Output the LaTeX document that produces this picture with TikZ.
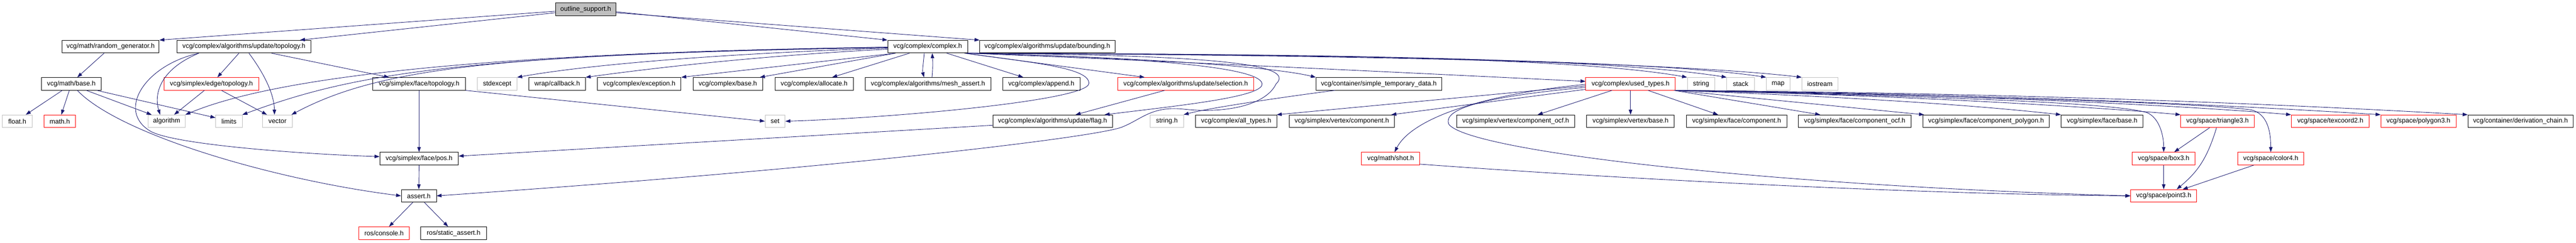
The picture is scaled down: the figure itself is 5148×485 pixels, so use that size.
\documentclass[tikz,border=0pt]{standalone}
\usepackage{fontspec}
\setmainfont{Liberation Sans}
\usetikzlibrary{arrows.meta}
\definecolor{mblue}{HTML}{191970}
\definecolor{gray75}{HTML}{BFBFBF}
\definecolor{nred}{HTML}{FF0000}
\tikzset{
  box/.style={draw, rectangle, minimum height=25.3pt, inner sep=0pt, line width=0.9pt,
    font=\fontsize{13.2}{15}\selectfont, text=black},
  nb/.style={box, draw=black},
  nr/.style={box, draw=nred},
  ng/.style={box, draw=gray75},
  nroot/.style={box, draw=black, fill=gray75},
  e/.style={draw=mblue, line width=0.9pt, -{Triangle[length=10pt,width=7pt]}}
}
\begin{document}
\begin{tikzpicture}[x=1pt,y=-1pt]
\useasboundingbox[fill=white] (0,0) rectangle (5148,485);
% row 0
\node[nroot, minimum width=121pt] (os) at (1170.5,18.5) {outline\_support.h};
% row 1
\node[nb, minimum width=194pt] (rg) at (221,93.3) {vcg/math/random\_generator.h};
\node[nb, minimum width=267pt] (ut) at (487.5,93.3) {vcg/complex/algorithms/update/topology.h};
\node[nb, minimum width=160pt] (cx) at (1854,93.3) {vcg/complex/complex.h};
\node[nb, minimum width=270pt] (bd) at (2093,93.3) {vcg/complex/algorithms/update/bounding.h};
% row 2
\node[nb, minimum width=119pt] (mb) at (142.5,167.7) {vcg/math/base.h};
\node[nr, minimum width=189pt] (et) at (422.5,167.7) {vcg/simplex/edge/topology.h};
\node[nb, minimum width=185pt] (ft) at (837.5,167.7) {vcg/simplex/face/topology.h};
\node[ng, minimum width=79pt] (se) at (993.5,167.7) {stdexcept};
\node[nb, minimum width=113pt] (cb) at (1113.5,167.7) {wrap/callback.h};
\node[nb, minimum width=167pt] (ex) at (1277.5,167.7) {vcg/complex/exception.h};
\node[nb, minimum width=139pt] (cbase) at (1454.5,167.7) {vcg/complex/base.h};
\node[nb, minimum width=156pt] (al) at (1627,167.7) {vcg/complex/allocate.h};
\node[nb, minimum width=251pt] (ma) at (1854.5,167.7) {vcg/complex/algorithms/mesh\_assert.h};
\node[nb, minimum width=154pt] (ap) at (2081,167.7) {vcg/complex/append.h};
\node[nr, minimum width=271pt] (sel) at (2369.5,167.7) {vcg/complex/algorithms/update/selection.h};
\node[nb, minimum width=251pt] (st) at (2755.5,167.7) {vcg/container/simple\_temporary\_data.h};
\node[nr, minimum width=179pt] (ut2) at (3258.5,167.7) {vcg/complex/used\_types.h};
\node[ng, minimum width=55pt] (str) at (3399.5,167.7) {string};
\node[ng, minimum width=55pt] (stk) at (3478.5,167.7) {stack};
\node[ng, minimum width=47pt] (map) at (3553.5,167.7) {map};
\node[ng, minimum width=72pt] (ios) at (3637,167.7) {iostream};
% row 3
\node[ng, minimum width=59pt] (fl) at (34.5,242.5) {float.h};
\node[nr, minimum width=63pt] (mh) at (119.5,242.5) {math.h};
\node[ng, minimum width=74pt] (alg) at (333,242.5) {algorithm};
\node[ng, minimum width=53pt] (lim) at (457.5,242.5) {limits};
\node[ng, minimum width=59pt] (vec) at (554.5,242.5) {vector};
\node[ng, minimum width=40pt] (set) at (1549,242.5) {set};
\node[nb, minimum width=239pt] (flag) at (2103.5,242.5) {vcg/complex/algorithms/update/flag.h};
\node[ng, minimum width=66pt] (strh) at (2332,242.5) {string.h};
\node[nb, minimum width=163pt] (at) at (2470.5,242.5) {vcg/complex/all\_types.h};
\node[nb, minimum width=211pt] (vc) at (2681.5,242.5) {vcg/simplex/vertex/component.h};
\node[nb, minimum width=236pt] (vco) at (3029,242.5) {vcg/simplex/vertex/component\_ocf.h};
\node[nb, minimum width=175pt] (vb) at (3258.5,242.5) {vcg/simplex/vertex/base.h};
\node[nb, minimum width=201pt] (fc) at (3470.5,242.5) {vcg/simplex/face/component.h};
\node[nb, minimum width=225pt] (fco) at (3706.5,242.5) {vcg/simplex/face/component\_ocf.h};
\node[nb, minimum width=252pt] (fcp) at (3969,242.5) {vcg/simplex/face/component\_polygon.h};
\node[nb, minimum width=164pt] (fb) at (4201,242.5) {vcg/simplex/face/base.h};
\node[nr, minimum width=147pt] (tri) at (4431.5,242.5) {vcg/space/triangle3.h};
\node[nr, minimum width=156pt] (tex) at (4657,242.5) {vcg/space/texcoord2.h};
\node[nr, minimum width=150pt] (poly) at (4833,242.5) {vcg/space/polygon3.h};
\node[nb, minimum width=210pt] (dc) at (5037,242.5) {vcg/container/derivation\_chain.h};
% row 4
\node[nb, minimum width=157pt] (pos) at (837.5,317.2) {vcg/simplex/face/pos.h};
\node[nr, minimum width=116pt] (shot) at (2779,317.2) {vcg/math/shot.h};
\node[nr, minimum width=126pt] (box) at (4324,317.2) {vcg/space/box3.h};
\node[nr, minimum width=132pt] (col) at (4538,317.2) {vcg/space/color4.h};
% row 5
\node[nb, minimum width=70pt] (as) at (837,391.7) {assert.h};
\node[nr, minimum width=132pt] (pt) at (4324,391.7) {vcg/space/point3.h};
% row 6
\node[nr, minimum width=101pt] (rc) at (767.5,466.3) {ros/console.h};
\node[nb, minimum width=131pt] (rsa) at (906.5,466.3) {ros/static\_assert.h};

% ---- edges ----
\draw[e] ([yshift=-4pt]os.west) -- (rg.north east);
\draw[e] ([yshift=-7pt]os.west) -- ([xshift=-22pt]ut.north east);
\draw[e] ([yshift=-5pt]os.east) -- (cx.north west);
\draw[e] ([yshift=-7pt]os.east) -- (bd.north west);
\draw[e] ([xshift=-13pt]rg.south) -- ([xshift=12pt]mb.north);
% base.h
\draw[e] ([xshift=-18pt]mb.south) -- ([xshift=17pt]fl.north);
\draw[e] ([xshift=-4pt]mb.south) -- ([xshift=3pt]mh.north);
\draw[e] ([xshift=30pt]mb.south) -- ([xshift=-30pt]alg.north);
\draw[e] ([xshift=-9pt]mb.south east) -- ([yshift=7pt]lim.west);
\draw[e] ([xshift=12pt]mb.south) .. controls (240,270) and (550,360) .. (as.west);
% update/topology.h
\draw[e] ([xshift=-10pt]ut.south) -- ([xshift=12pt]et.north);
\draw[e] ([xshift=10pt]ut.south) .. controls (530,150) and (548,190) .. ([xshift=-6pt]vec.north);
\draw[e] ([xshift=55pt]ut.south) -- ([xshift=-60pt]ft.north);
\draw[e] ([xshift=-90pt]ut.south) .. controls (317,140) and (308,190) .. ([xshift=-13pt]alg.north);
\draw[e] ([xshift=-90pt]ut.south) .. controls (290,130) and (232,221) .. (300,262)
   .. controls (345,289) and (600,308) .. ([yshift=4pt]pos.west);
% edge/topology.h
\draw[e] ([xshift=-14pt]et.south) -- ([xshift=15pt]alg.north);
\draw[e] ([xshift=20pt]et.south) -- ([xshift=-21pt]vec.north);
% face/topology.h etc
\draw[e] (ft.south) -- (pos.north);
\draw[e] (ft.south east) -- (set.west);
\draw[e] (pos.south) -- (as.north);
\draw[e] ([xshift=-12pt]as.south) -- ([xshift=10pt]rc.north);
\draw[e] ([xshift=11pt]as.south) -- ([xshift=-11pt]rsa.north);
% complex.h
\draw[e] ([yshift=-1pt]cx.west) .. controls (1000,105) and (560,150) .. (alg.north east);
\draw[e] ([yshift=-1pt]cx.west) .. controls (900,110) and (700,150) .. (lim.north east);
\draw[e] ([yshift=-2pt]cx.west) .. controls (1000,108) and (760,135) .. ([xshift=-2pt]vec.north east);
\draw[e] ([yshift=-3pt]cx.west) .. controls (1500,105) and (1200,125) .. (se.north east);
\draw[e] ([yshift=-5pt]cx.west) .. controls (1550,110) and (1350,130) .. (cb.north east);
\draw[e] ([xshift=16pt]cx.south west) -- (ex.north east);
\draw[e] ([xshift=16pt]cx.south west) -- ([xshift=-6pt]cbase.north east);
\draw[e] ([xshift=44pt]cx.south west) -- ([xshift=36pt]al.north);
\draw[e] ([xshift=-7pt]cx.south) .. controls (1845,130) and (1843,140) .. ([xshift=-8pt]ma.north);
\draw[e] ([xshift=8pt]ma.north) .. controls (1864,140) and (1864,125) .. ([xshift=9pt]cx.south);
\draw[e] ([xshift=38pt]cx.south) -- ([xshift=-36pt]ap.north);
\draw[e] ([xshift=-7pt]cx.south east) -- ([xshift=-82pt]sel.north);
\draw[e] ([xshift=-4pt]cx.south east) .. controls (2300,115) and (2530,135) .. (2522,170)
   .. controls (2515,195) and (2350,212) .. ([xshift=-16pt]flag.north east);
\draw[e] ([xshift=-2pt]cx.south east) .. controls (2450,110) and (2590,130) .. (2550,168)
   .. controls (2530,210) and (2450,228) .. (2363,218)
   .. controls (2300,212) and (2280,240) .. (2240,255)
   .. controls (2180,275) and (1700,335) .. (as.east);
\draw[e] ([xshift=-6pt]cx.south east) .. controls (2060,125) and (2178,135) .. (2176,167)
   .. controls (2174,200) and (1800,235) .. (set.east);
\draw[e] ([xshift=-3pt]cx.south east) .. controls (2300,115) and (2550,135) .. (st.north west);
\draw[e] (cx.south east) .. controls (2400,125) and (2900,150) .. ([yshift=5pt]ut2.west);
\draw[e] (cx.south east) .. controls (2600,108) and (3150,115) .. (str.north west);
\draw[e] (cx.south east) .. controls (2600,108) and (3200,115) .. (stk.north west);
\draw[e] (cx.south east) .. controls (2700,110) and (3300,120) .. (map.north west);
\draw[e] (cx.south east) .. controls (2700,110) and (3350,125) .. (ios.north west);
% selection, flag, simple_temporary_data
\draw[e] ([xshift=-42pt]sel.south) -- ([xshift=46pt]flag.north);
\draw[e] ([yshift=-8pt]flag.west) -- ([yshift=5pt]pos.east);
\draw[e] ([xshift=-88pt]st.south) .. controls (2580,192) and (2420,215) .. (strh.north east);
% used_types.h
\draw[e] ([yshift=-4pt]ut2.west) -- ([xshift=-1pt]at.north east);
\draw[e] ([yshift=-11pt]ut2.west) -- ([xshift=-7pt]vc.north east);
\draw[e] ([yshift=-1pt]ut2.west) .. controls (2950,190) and (2820,240) .. ([xshift=8pt]shot.north);
\draw[e] ([yshift=-7pt]ut2.west) .. controls (2950,195) and (2885,220) .. (2895,248)
   .. controls (2930,300) and (3500,370) .. (pt.west);
\draw[e] ([yshift=2pt]shot.south east) .. controls (3200,355) and (3800,388) .. (pt.west);
\draw[e] ([xshift=-37pt]ut2.south) -- ([xshift=44pt]vco.north);
\draw[e] (ut2.south) -- (vb.north);
\draw[e] ([xshift=35pt]ut2.south) -- ([xshift=-37pt]fc.north);
\draw[e] ([xshift=-3pt]ut2.south east) -- ([xshift=-69pt]fco.north);
\draw[e] (ut2.south east) -- ([xshift=-124pt]fcp.north);
\draw[e] (ut2.south east) .. controls (3600,190) and (3900,205) .. (fb.north west);
\draw[e] (ut2.south east) .. controls (3700,190) and (4200,200) .. (4290,225)
   .. controls (4315,235) and (4324,270) .. (box.north);
\draw[e] (ut2.south east) .. controls (3800,190) and (4200,215) .. (tri.north west);
\draw[e] (ut2.south east) .. controls (3900,192) and (4400,205) .. (4500,220)
   .. controls (4530,228) and (4538,260) .. (col.north);
\draw[e] (ut2.south east) .. controls (3900,188) and (4350,210) .. (tex.north west);
\draw[e] (ut2.south east) .. controls (4000,188) and (4450,210) .. (poly.north west);
\draw[e] (ut2.south east) .. controls (4000,186) and (4500,205) .. (dc.north west);
% space
\draw[e] ([xshift=-16pt]tri.south) -- ([xshift=21pt]box.north);
\draw[e] ([xshift=-2pt]tri.south) .. controls (4410,320) and (4390,345) .. ([xshift=26pt]pt.north);
\draw[e] (box.south) -- (pt.north);
\draw[e] ([xshift=-34pt]col.south) -- ([xshift=38pt]pt.north);
\end{tikzpicture}
\end{document}
